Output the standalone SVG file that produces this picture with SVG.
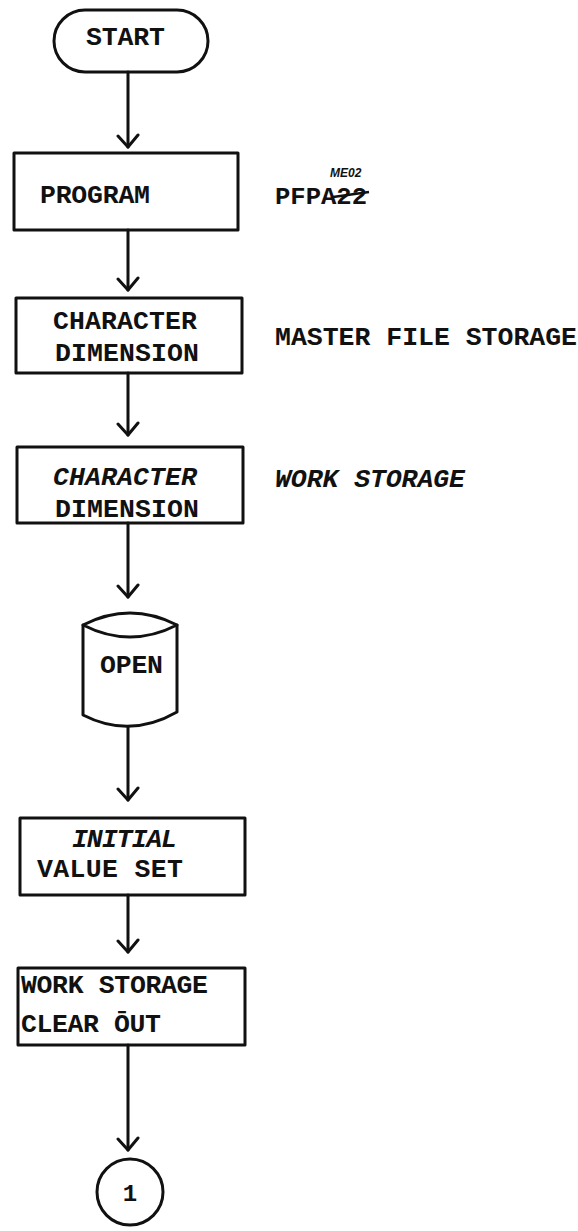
<svg xmlns="http://www.w3.org/2000/svg" width="578" height="1231" viewBox="0 0 578 1231">
<defs>
<style>
.s{fill:none;stroke:#111;stroke-width:3;stroke-linejoin:round;stroke-linecap:round}
.t{font-family:"Liberation Mono","Courier New",monospace;font-size:26.5px;font-weight:bold;fill:#111}
.i{font-style:italic}
.c{stroke:#111;stroke-width:3;fill:none;stroke-linecap:round}
</style>
<marker id="ah" viewBox="0 0 16 24" refX="14" refY="12" markerWidth="16" markerHeight="24" markerUnits="userSpaceOnUse" orient="auto">
<path d="M2,2 L14,12 L3,22" fill="none" stroke="#111" stroke-width="3" stroke-linecap="round" stroke-linejoin="round"/>
</marker>
</defs>
<rect width="578" height="1231" fill="#fff"/>
<g id="connectors">
<line class="c" x1="128" y1="72" x2="128" y2="147" marker-end="url(#ah)"/>
<line class="c" x1="128" y1="230" x2="128" y2="290" marker-end="url(#ah)"/>
<line class="c" x1="128" y1="373" x2="128" y2="435" marker-end="url(#ah)"/>
<line class="c" x1="128" y1="523" x2="128" y2="597" marker-end="url(#ah)"/>
<line class="c" x1="128" y1="727" x2="128" y2="800" marker-end="url(#ah)"/>
<line class="c" x1="128" y1="895" x2="128" y2="952" marker-end="url(#ah)"/>
<line class="c" x1="128" y1="1045" x2="128" y2="1150" marker-end="url(#ah)"/>
</g>
<g id="start">
<rect class="s" x="54" y="10" width="154" height="62" rx="31"/>
<text class="t" x="86" y="45" textLength="79">START</text>
</g>
<g id="program">
<rect class="s" x="14" y="153" width="224" height="77"/>
<text class="t" x="40" y="203" textLength="110">PROGRAM</text>
</g>
<g id="program-note">
<text class="t" x="275" y="204" style="font-size:24px" textLength="92" lengthAdjust="spacingAndGlyphs">PFPA22</text>
<line x1="333" y1="197" x2="369" y2="192" stroke="#111" stroke-width="2.5"/>
<text x="330" y="177" font-family="Liberation Sans, Arial, sans-serif" font-size="12" font-style="italic" font-weight="bold" fill="#111">ME02</text>
</g>
<g id="char-dim-1">
<rect class="s" x="16" y="298" width="226" height="75"/>
<text class="t" x="53" y="329" textLength="144">CHARACTER</text>
<text class="t" x="55" y="361" textLength="144">DIMENSION</text>
</g>
<g id="master-note">
<text class="t" x="275" y="345" textLength="302">MASTER FILE STORAGE</text>
</g>
<g id="char-dim-2">
<rect class="s" x="17" y="447" width="226" height="76"/>
<text class="t i" x="53" y="485" textLength="144">CHARACTER</text>
<text class="t" x="55" y="517" textLength="144">DIMENSION</text>
</g>
<g id="work-note">
<text class="t i" x="275" y="487" textLength="190">WORK STORAGE</text>
</g>
<g id="open">
<path class="s" d="M83,625 Q130,601 177,625 Q130,649 83,625 Z"/>
<path class="s" d="M83,625 L83,715 Q130,739 177,712 L177,625"/>
<text class="t" x="100" y="673" textLength="63">OPEN</text>
</g>
<g id="initial">
<rect class="s" x="20" y="818" width="225" height="77"/>
<text class="t i" x="72" y="847" textLength="105">INITIAL</text>
<text class="t" x="37" y="877" textLength="146">VALUE SET</text>
</g>
<g id="clear">
<rect class="s" x="18" y="968" width="227" height="77"/>
<text class="t" x="21" y="993" textLength="187">WORK STORAGE</text>
<text class="t" x="21" y="1032" textLength="140">CLEAR ŌUT</text>
</g>
<g id="connector-1">
<circle class="s" cx="130" cy="1192" r="33"/>
<text class="t" x="130" y="1201" text-anchor="middle" style="font-size:24px">1</text>
</g>
</svg>
